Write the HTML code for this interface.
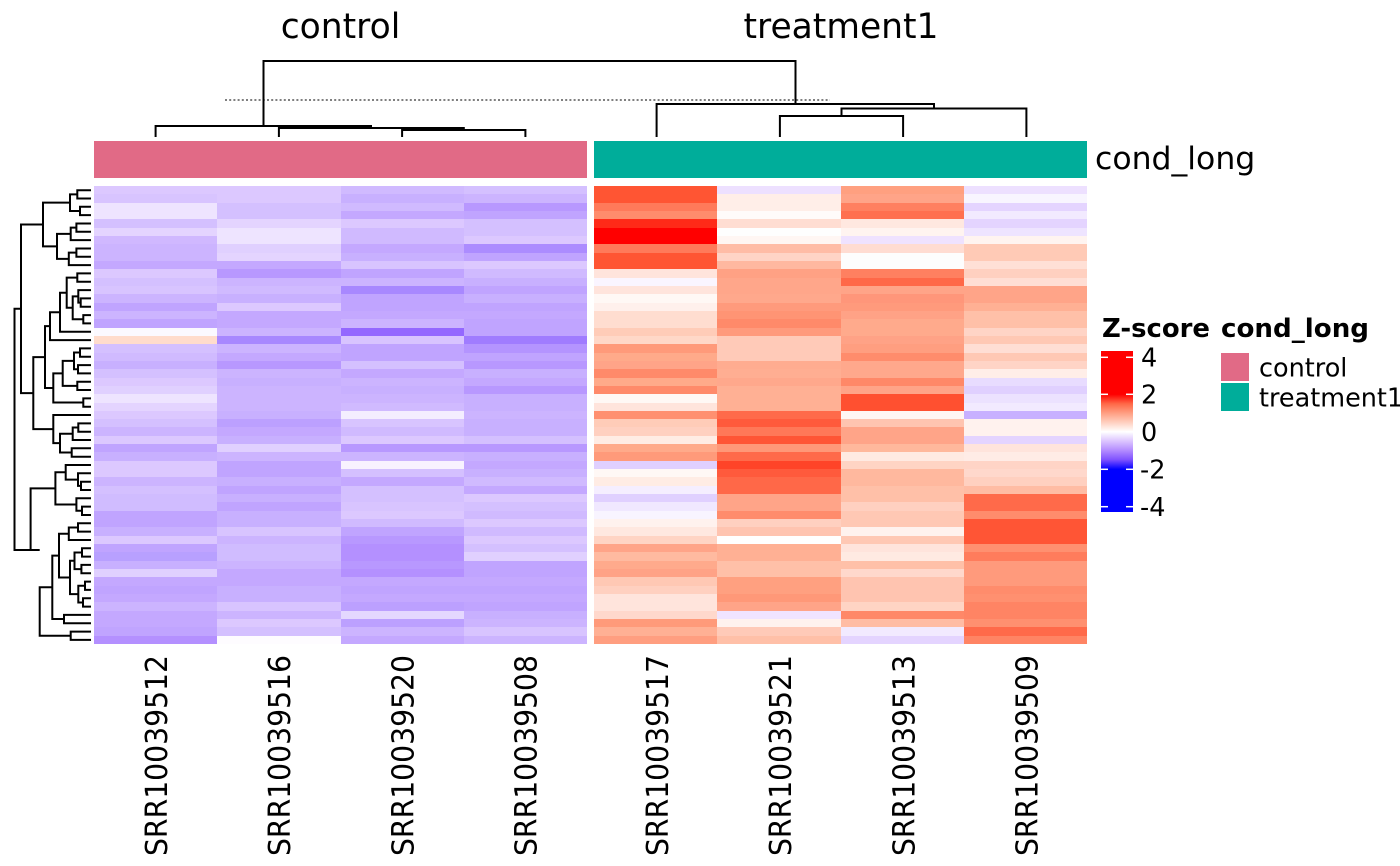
<!DOCTYPE html>
<html><head><meta charset="utf-8">
<style>
html,body{margin:0;padding:0;background:#fff;}
#wrap{position:relative;width:1400px;height:866px;overflow:hidden;background:#fff;}
.hm{position:absolute;top:186px;width:493px;height:458px;display:grid;grid-template-rows:repeat(55,1fr);grid-template-columns:repeat(4,1fr);grid-auto-flow:column;}
.hm i{display:block;}
svg{position:absolute;left:0;top:0;}
text{font-family:"DejaVu Sans","Liberation Sans",sans-serif;}
</style></head><body><div id="wrap">

<div class="hm" style="left:94px">
<i style="background:#dcc8ff"></i><i style="background:#d8c4ff"></i><i style="background:#eee4ff"></i><i style="background:#eee4ff"></i><i style="background:#d4c0ff"></i><i style="background:#e4d4ff"></i><i style="background:#d0b8ff"></i><i style="background:#ccb4ff"></i><i style="background:#ccb4ff"></i><i style="background:#c4a8ff"></i><i style="background:#dcc8ff"></i><i style="background:#d4c0ff"></i><i style="background:#d8c4ff"></i><i style="background:#ccb4ff"></i><i style="background:#c0a4ff"></i><i style="background:#ccb4ff"></i><i style="background:#c0a4ff"></i><i style="background:#fbf9ff"></i><i style="background:#ffdccc"></i><i style="background:#d4c0ff"></i><i style="background:#d0baff"></i><i style="background:#c8b0ff"></i><i style="background:#d4c0ff"></i><i style="background:#dcc8ff"></i><i style="background:#e0d0ff"></i><i style="background:#eee4ff"></i><i style="background:#e4d4ff"></i><i style="background:#dcc8ff"></i><i style="background:#d4c0ff"></i><i style="background:#ccb4ff"></i><i style="background:#dcc8ff"></i><i style="background:#c0a4ff"></i><i style="background:#c8b0ff"></i><i style="background:#dcc8ff"></i><i style="background:#dcc8ff"></i><i style="background:#ccb4ff"></i><i style="background:#d4c0ff"></i><i style="background:#d0bcff"></i><i style="background:#d0bcff"></i><i style="background:#c0a4ff"></i><i style="background:#c0a4ff"></i><i style="background:#c8b0ff"></i><i style="background:#dcc8ff"></i><i style="background:#c0a4ff"></i><i style="background:#b8a0ff"></i><i style="background:#c8b0ff"></i><i style="background:#e0d0ff"></i><i style="background:#c4a8ff"></i><i style="background:#c0a4ff"></i><i style="background:#c4a8ff"></i><i style="background:#ccb4ff"></i><i style="background:#c4a8ff"></i><i style="background:#c4a8ff"></i><i style="background:#c0a4ff"></i><i style="background:#b490ff"></i>
<i style="background:#dcc8ff"></i><i style="background:#dcc8ff"></i><i style="background:#d4c0ff"></i><i style="background:#d4c0ff"></i><i style="background:#e4d4ff"></i><i style="background:#eee4ff"></i><i style="background:#eee4ff"></i><i style="background:#e0d0ff"></i><i style="background:#e4d4ff"></i><i style="background:#c4a8ff"></i><i style="background:#b898ff"></i><i style="background:#ccb4ff"></i><i style="background:#d0baff"></i><i style="background:#c8b0ff"></i><i style="background:#dcc8ff"></i><i style="background:#c4a8ff"></i><i style="background:#c4a8ff"></i><i style="background:#ccb4ff"></i><i style="background:#a888ff"></i><i style="background:#ccb4ff"></i><i style="background:#c4a8ff"></i><i style="background:#b898ff"></i><i style="background:#ccb4ff"></i><i style="background:#c8b0ff"></i><i style="background:#ccb4ff"></i><i style="background:#ccb4ff"></i><i style="background:#ccb4ff"></i><i style="background:#c8b0ff"></i><i style="background:#bca0ff"></i><i style="background:#c4a8ff"></i><i style="background:#c8b0ff"></i><i style="background:#e0d0ff"></i><i style="background:#ccb4ff"></i><i style="background:#c0a4ff"></i><i style="background:#c0a4ff"></i><i style="background:#c8b0ff"></i><i style="background:#c0a4ff"></i><i style="background:#c8b0ff"></i><i style="background:#c0a4ff"></i><i style="background:#c8b0ff"></i><i style="background:#c8b0ff"></i><i style="background:#d8c4ff"></i><i style="background:#ccb4ff"></i><i style="background:#d0bcff"></i><i style="background:#d0bcff"></i><i style="background:#ccb4ff"></i><i style="background:#c4a8ff"></i><i style="background:#c4a8ff"></i><i style="background:#c8b0ff"></i><i style="background:#c8b0ff"></i><i style="background:#d8c4ff"></i><i style="background:#ccb4ff"></i><i style="background:#dcc8ff"></i><i style="background:#d4c0ff"></i><i style="background:#fefcff"></i>
<i style="background:#d0baff"></i><i style="background:#c8b0ff"></i><i style="background:#d0baff"></i><i style="background:#c4a8ff"></i><i style="background:#dcc8ff"></i><i style="background:#d0baff"></i><i style="background:#d0baff"></i><i style="background:#c4a8ff"></i><i style="background:#c8b0ff"></i><i style="background:#d8c4ff"></i><i style="background:#c0a4ff"></i><i style="background:#ccb4ff"></i><i style="background:#a888ff"></i><i style="background:#c0a4ff"></i><i style="background:#c0a4ff"></i><i style="background:#c4a8ff"></i><i style="background:#ccb4ff"></i><i style="background:#9468ff"></i><i style="background:#d8c4ff"></i><i style="background:#c0a4ff"></i><i style="background:#c0a4ff"></i><i style="background:#d4c0ff"></i><i style="background:#c4a8ff"></i><i style="background:#ccb4ff"></i><i style="background:#c8b0ff"></i><i style="background:#ccb4ff"></i><i style="background:#d0baff"></i><i style="background:#f4eeff"></i><i style="background:#d8c4ff"></i><i style="background:#d0baff"></i><i style="background:#dcc8ff"></i><i style="background:#b898ff"></i><i style="background:#ccb4ff"></i><i style="background:#f8f2ff"></i><i style="background:#d4c0ff"></i><i style="background:#c4a8ff"></i><i style="background:#d4c0ff"></i><i style="background:#d4c0ff"></i><i style="background:#d8c4ff"></i><i style="background:#dcc8ff"></i><i style="background:#d0baff"></i><i style="background:#c0a4ff"></i><i style="background:#b898ff"></i><i style="background:#b490ff"></i><i style="background:#b490ff"></i><i style="background:#b898ff"></i><i style="background:#b490ff"></i><i style="background:#c4a8ff"></i><i style="background:#c0a4ff"></i><i style="background:#c4a8ff"></i><i style="background:#bca0ff"></i><i style="background:#e4d8ff"></i><i style="background:#bca0ff"></i><i style="background:#ccb4ff"></i><i style="background:#c4a8ff"></i>
<i style="background:#d4c0ff"></i><i style="background:#ccb4ff"></i><i style="background:#b898ff"></i><i style="background:#c0a4ff"></i><i style="background:#d4c0ff"></i><i style="background:#d4c0ff"></i><i style="background:#dcc8ff"></i><i style="background:#ac8cff"></i><i style="background:#c0a4ff"></i><i style="background:#dcc8ff"></i><i style="background:#d0baff"></i><i style="background:#c8b0ff"></i><i style="background:#c0a4ff"></i><i style="background:#c8b0ff"></i><i style="background:#c0a4ff"></i><i style="background:#c4a8ff"></i><i style="background:#c0a4ff"></i><i style="background:#c0a4ff"></i><i style="background:#a07cff"></i><i style="background:#b494ff"></i><i style="background:#c0a4ff"></i><i style="background:#b898ff"></i><i style="background:#c8b0ff"></i><i style="background:#c4a8ff"></i><i style="background:#b898ff"></i><i style="background:#c8b0ff"></i><i style="background:#c8b0ff"></i><i style="background:#ccb4ff"></i><i style="background:#c8b0ff"></i><i style="background:#c8b0ff"></i><i style="background:#d4c0ff"></i><i style="background:#b898ff"></i><i style="background:#c8b0ff"></i><i style="background:#c4a8ff"></i><i style="background:#c8b0ff"></i><i style="background:#d0baff"></i><i style="background:#c4a8ff"></i><i style="background:#dcc8ff"></i><i style="background:#d4c0ff"></i><i style="background:#d0baff"></i><i style="background:#dcc8ff"></i><i style="background:#d0baff"></i><i style="background:#dcc8ff"></i><i style="background:#d4c0ff"></i><i style="background:#e0d0ff"></i><i style="background:#c0a4ff"></i><i style="background:#c0a4ff"></i><i style="background:#c4a8ff"></i><i style="background:#c0a4ff"></i><i style="background:#c4a8ff"></i><i style="background:#c0a4ff"></i><i style="background:#c8b0ff"></i><i style="background:#ccb4ff"></i><i style="background:#d8c4ff"></i><i style="background:#ccb4ff"></i>
</div>

<div class="hm" style="left:594px">
<i style="background:#ff5533"></i><i style="background:#ff5533"></i><i style="background:#ff7a5a"></i><i style="background:#ff8c6c"></i><i style="background:#ff2a18"></i><i style="background:#ff0000"></i><i style="background:#ff0000"></i><i style="background:#ff7a5a"></i><i style="background:#ff5533"></i><i style="background:#ff5533"></i><i style="background:#ffe4dc"></i><i style="background:#faf5ff"></i><i style="background:#ffe4dc"></i><i style="background:#fff8f5"></i><i style="background:#fff0ec"></i><i style="background:#ffddd0"></i><i style="background:#ffddd0"></i><i style="background:#ffccb8"></i><i style="background:#ffd8c8"></i><i style="background:#ff9a7a"></i><i style="background:#ffaa8a"></i><i style="background:#ffa488"></i><i style="background:#ff8a6a"></i><i style="background:#ffaa8a"></i><i style="background:#ff8a6a"></i><i style="background:#fff8f5"></i><i style="background:#ffe4dc"></i><i style="background:#ff9070"></i><i style="background:#ffccb8"></i><i style="background:#ffd0c0"></i><i style="background:#ffece4"></i><i style="background:#ffaa8a"></i><i style="background:#ff9a7a"></i><i style="background:#e0d0ff"></i><i style="background:#fff8f5"></i><i style="background:#ffece4"></i><i style="background:#f5eeff"></i><i style="background:#e0d0ff"></i><i style="background:#f0e8ff"></i><i style="background:#f8f4ff"></i><i style="background:#fff2ee"></i><i style="background:#ffe8e0"></i><i style="background:#ffd4c4"></i><i style="background:#ffa488"></i><i style="background:#ffbaa0"></i><i style="background:#ffaa8c"></i><i style="background:#ffa286"></i><i style="background:#ffc8b4"></i><i style="background:#ffd0c0"></i><i style="background:#ffe4dc"></i><i style="background:#ffe4dc"></i><i style="background:#ffd8cc"></i><i style="background:#ff9a7a"></i><i style="background:#ffb094"></i><i style="background:#ff9e80"></i>
<i style="background:#ede0ff"></i><i style="background:#ffeee8"></i><i style="background:#ffeee8"></i><i style="background:#fffbfa"></i><i style="background:#ffddd2"></i><i style="background:#fefefe"></i><i style="background:#fff6f3"></i><i style="background:#ffbca6"></i><i style="background:#ffd4c6"></i><i style="background:#ffb8a0"></i><i style="background:#ffa184"></i><i style="background:#ffa68a"></i><i style="background:#ffa68a"></i><i style="background:#ffa88c"></i><i style="background:#ff9a7c"></i><i style="background:#ff9474"></i><i style="background:#ff8a6a"></i><i style="background:#ff9a7c"></i><i style="background:#ffcab8"></i><i style="background:#ffcab8"></i><i style="background:#ffcab8"></i><i style="background:#ffac90"></i><i style="background:#ffae92"></i><i style="background:#ffa88c"></i><i style="background:#ffb094"></i><i style="background:#ffb094"></i><i style="background:#ffb094"></i><i style="background:#ff6a4a"></i><i style="background:#ff5a3c"></i><i style="background:#ff7858"></i><i style="background:#ff5535"></i><i style="background:#ff9878"></i><i style="background:#ff6a4a"></i><i style="background:#ff4428"></i><i style="background:#ff5a3c"></i><i style="background:#ff6848"></i><i style="background:#ff6848"></i><i style="background:#ffa488"></i><i style="background:#ffa488"></i><i style="background:#ff8c6c"></i><i style="background:#ffd0c0"></i><i style="background:#ffc4b0"></i><i style="background:#ffffff"></i><i style="background:#ffb094"></i><i style="background:#ffb094"></i><i style="background:#ffc0a8"></i><i style="background:#ffc0a8"></i><i style="background:#ffa080"></i><i style="background:#ffa080"></i><i style="background:#ff9878"></i><i style="background:#ffa488"></i><i style="background:#f0e4ff"></i><i style="background:#fff2ee"></i><i style="background:#ffcab8"></i><i style="background:#ffc0a8"></i>
<i style="background:#ffa080"></i><i style="background:#ffa488"></i><i style="background:#ff8060"></i><i style="background:#ff7050"></i><i style="background:#ffe8e0"></i><i style="background:#fff4f0"></i><i style="background:#efe2ff"></i><i style="background:#ffdcd2"></i><i style="background:#fdfdfd"></i><i style="background:#fdfdfd"></i><i style="background:#ff8060"></i><i style="background:#ff6848"></i><i style="background:#ffa488"></i><i style="background:#ff967a"></i><i style="background:#ff9a7c"></i><i style="background:#ffa286"></i><i style="background:#ffaa8c"></i><i style="background:#ffaa8c"></i><i style="background:#ffa286"></i><i style="background:#ff9e80"></i><i style="background:#ff8c6c"></i><i style="background:#ffa88c"></i><i style="background:#ffa88c"></i><i style="background:#ff8868"></i><i style="background:#ffa488"></i><i style="background:#ff5030"></i><i style="background:#ff5030"></i><i style="background:#fff6f3"></i><i style="background:#ffc4b0"></i><i style="background:#ffa488"></i><i style="background:#ffa488"></i><i style="background:#ffb89c"></i><i style="background:#ffeae2"></i><i style="background:#ffd4c4"></i><i style="background:#ffb89e"></i><i style="background:#ffb89e"></i><i style="background:#ffc0a8"></i><i style="background:#ffc0a8"></i><i style="background:#ffd0c0"></i><i style="background:#ffc8b4"></i><i style="background:#ffc8b4"></i><i style="background:#fff2ee"></i><i style="background:#ffc8b4"></i><i style="background:#ffe4dc"></i><i style="background:#ffeae2"></i><i style="background:#ffc0a8"></i><i style="background:#ffd8cc"></i><i style="background:#ffc4b0"></i><i style="background:#ffc4b0"></i><i style="background:#ffc4b0"></i><i style="background:#ffd4c4"></i><i style="background:#ff8868"></i><i style="background:#ffbca4"></i><i style="background:#f2eaff"></i><i style="background:#e4d4ff"></i>
<i style="background:#ede0ff"></i><i style="background:#f8f5ff"></i><i style="background:#e4d4ff"></i><i style="background:#f2eaff"></i><i style="background:#e4d4ff"></i><i style="background:#eee4ff"></i><i style="background:#fff4f0"></i><i style="background:#ffcab6"></i><i style="background:#ffcab6"></i><i style="background:#ffe0d6"></i><i style="background:#ffd0c0"></i><i style="background:#ffded4"></i><i style="background:#ffa488"></i><i style="background:#ffa488"></i><i style="background:#ffb094"></i><i style="background:#ffc0a8"></i><i style="background:#ffc0a8"></i><i style="background:#ffd4c6"></i><i style="background:#ffc8b4"></i><i style="background:#ffded4"></i><i style="background:#ffc8b4"></i><i style="background:#ffd4c6"></i><i style="background:#ffeee8"></i><i style="background:#e8dcff"></i><i style="background:#e0d0ff"></i><i style="background:#ece2ff"></i><i style="background:#f2eaff"></i><i style="background:#c8b0ff"></i><i style="background:#fff2ee"></i><i style="background:#fff2ee"></i><i style="background:#e4d4ff"></i><i style="background:#ffe4dc"></i><i style="background:#ffece6"></i><i style="background:#ffd4c6"></i><i style="background:#ffd8cc"></i><i style="background:#ffd0c0"></i><i style="background:#ffbca4"></i><i style="background:#ff6a4a"></i><i style="background:#ff6a4a"></i><i style="background:#ff8c6c"></i><i style="background:#ff5535"></i><i style="background:#ff5535"></i><i style="background:#ff5535"></i><i style="background:#ff9070"></i><i style="background:#ff7c5c"></i><i style="background:#ff9a7c"></i><i style="background:#ff9a7c"></i><i style="background:#ff9a7c"></i><i style="background:#ff8c6c"></i><i style="background:#ff9070"></i><i style="background:#ff8464"></i><i style="background:#ff8464"></i><i style="background:#ff9070"></i><i style="background:#ff6a4a"></i><i style="background:#ff8464"></i>
</div>

<svg width="1400" height="866" viewBox="0 0 1400 866" xmlns="http://www.w3.org/2000/svg">
<defs>
<linearGradient id="zg" x1="0" y1="0" x2="0" y2="1">
<stop offset="0" stop-color="#ff0000"/>
<stop offset="0.269" stop-color="#ff0000"/>
<stop offset="0.327" stop-color="#ff6746"/>
<stop offset="0.385" stop-color="#ff9e82"/>
<stop offset="0.443" stop-color="#ffcfbf"/>
<stop offset="0.501" stop-color="#ffffff"/>
<stop offset="0.559" stop-color="#dcc5ff"/>
<stop offset="0.618" stop-color="#b38bff"/>
<stop offset="0.676" stop-color="#7e51ff"/>
<stop offset="0.735" stop-color="#0000ff"/>
<stop offset="1" stop-color="#0000ff"/>
</linearGradient>
</defs>

<text x="340.5" y="38" font-size="34.5" text-anchor="middle" fill="#000">control</text>
<text x="841" y="38" font-size="34.5" text-anchor="middle" fill="#000">treatment1</text>

<line x1="225" y1="100" x2="830" y2="100" stroke="#555" stroke-width="1.6" stroke-dasharray="2 2.2"/>
<g fill="none" stroke="#000" stroke-width="2">
<path d="M263.5 126 V61 H795.5 V104"/>
<path d="M656.6 137 V104 H934 V108.5"/>
<path d="M841.5 116 V108.5 H1026.4 V137"/>
<path d="M779.9 137 V116 H903.1 V137"/>
<path d="M155.6 137 V126 H371 V128"/>
<path d="M278.9 137 V128 H463.8 V130"/>
<path d="M402.1 137 V130 H525.4 V137"/>
</g>

<rect x="94" y="141" width="493" height="37" fill="#E16A86"/>
<rect x="594" y="141" width="493" height="37" fill="#00AD9A"/>
<text x="1095" y="169" font-size="31.5" fill="#000">cond_long</text>

<g fill="none" stroke="#000" stroke-width="2">
<path d="M21 308.8 H14.5 V549.95 H30.6"/>
<path d="M43 224.5 H21 V393.1 H33.3"/>
<path d="M70 202.65 H43 V246.4 H57"/>
<path d="M77.3 194.35 H70 V210.95 H80"/>
<path d="M91 190.2 H77.3 V198.5 H91"/>
<path d="M91 206.8 H80 V215.1 H91"/>
<path d="M70.7 233.9 H57 V258.9 H68.8"/>
<path d="M76.4 227.65 H70.7 V240.1 H91"/>
<path d="M91 223.5 H76.4 V231.8 H91"/>
<path d="M76.4 252.65 H68.8 V265.1 H91"/>
<path d="M91 248.5 H76.4 V256.8 H91"/>
<path d="M45 357.1 H33.3 V429.1 H53.3"/>
<path d="M50 326.15 H45 V388 H53.3"/>
<path d="M60 312.2 H50 V340.1 H91"/>
<path d="M66.7 292.7 H60 V331.7 H91"/>
<path d="M77.3 277.6 H66.7 V307.8 H72.7"/>
<path d="M91 273.4 H77.3 V281.8 H91"/>
<path d="M78.3 296.35 H72.7 V319.25 H83.3"/>
<path d="M91 290.1 H78.3 V302.6 H80.7"/>
<path d="M91 298.4 H80.7 V306.8 H91"/>
<path d="M91 315.1 H83.3 V323.4 H91"/>
<path d="M62.7 373.4 H53.3 V402.55 H83.3"/>
<path d="M74 360.9 H62.7 V385.85 H77.3"/>
<path d="M80 352.55 H74 V369.25 H78"/>
<path d="M91 348.4 H80 V356.7 H91"/>
<path d="M91 365.1 H78 V373.4 H91"/>
<path d="M91 381.7 H77.3 V390 H91"/>
<path d="M91 398.4 H83.3 V406.7 H91"/>
<path d="M91 415 H53.3 V443.15 H60"/>
<path d="M72.7 433.8 H60 V452.5 H71.7"/>
<path d="M78.3 427.55 H72.7 V440 H91"/>
<path d="M91 423.4 H78.3 V431.7 H91"/>
<path d="M91 448.3 H71.7 V456.7 H91"/>
<path d="M55.4 488.4 H30.6 V549.95 H39.7"/>
<path d="M65.7 472.3 H55.4 V504.55 H76.4"/>
<path d="M91 465 H65.7 V479.6 H78"/>
<path d="M91 473.3 H78 V485.85 H81"/>
<path d="M91 481.7 H81 V490 H91"/>
<path d="M91 498.3 H76.4 V510.8 H82"/>
<path d="M91 506.6 H82 V515 H91"/>
<path d="M52.3 587.3 H39.7 V635.75 H70.7"/>
<path d="M59 555.6 H52.3 V619.05 H64"/>
<path d="M68.8 533.7 H59 V577.45 H70"/>
<path d="M78 527.45 H68.8 V540 H91"/>
<path d="M91 523.3 H78 V531.6 H91"/>
<path d="M74.5 560.8 H70 V594.1 H78.3"/>
<path d="M82 552.45 H74.5 V569.1 H81.4"/>
<path d="M91 548.3 H82 V556.6 H91"/>
<path d="M91 564.9 H81.4 V573.3 H91"/>
<path d="M85 585.75 H78.3 V602.45 H83"/>
<path d="M91 581.6 H85 V589.9 H91"/>
<path d="M91 598.3 H83 V606.6 H91"/>
<path d="M91 614.9 H64 V623.2 H91"/>
<path d="M91 631.6 H70.7 V639.9 H91"/>
</g>

<g font-size="30" fill="#000" text-anchor="end">
<text transform="translate(166.8,655) rotate(-90)" textLength="201" lengthAdjust="spacingAndGlyphs">SRR10039512</text>
<text transform="translate(290.1,655) rotate(-90)" textLength="201" lengthAdjust="spacingAndGlyphs">SRR10039516</text>
<text transform="translate(413.3,655) rotate(-90)" textLength="201" lengthAdjust="spacingAndGlyphs">SRR10039520</text>
<text transform="translate(536.6,655) rotate(-90)" textLength="201" lengthAdjust="spacingAndGlyphs">SRR10039508</text>
<text transform="translate(667.8,655) rotate(-90)" textLength="201" lengthAdjust="spacingAndGlyphs">SRR10039517</text>
<text transform="translate(791.1,655) rotate(-90)" textLength="201" lengthAdjust="spacingAndGlyphs">SRR10039521</text>
<text transform="translate(914.3,655) rotate(-90)" textLength="201" lengthAdjust="spacingAndGlyphs">SRR10039513</text>
<text transform="translate(1037.6,655) rotate(-90)" textLength="201" lengthAdjust="spacingAndGlyphs">SRR10039509</text>
</g>

<text x="1102" y="337" font-size="26" font-weight="bold" fill="#000" textLength="108" lengthAdjust="spacingAndGlyphs">Z-score</text>
<text x="1221" y="337" font-size="26" font-weight="bold" fill="#000" textLength="148" lengthAdjust="spacingAndGlyphs">cond_long</text>

<rect x="1101" y="351" width="32" height="161" fill="url(#zg)"/>
<g stroke="#fff" stroke-width="1.5">
<line x1="1101" y1="357.3" x2="1108" y2="357.3"/><line x1="1126" y1="357.3" x2="1133" y2="357.3"/>
<line x1="1101" y1="394.3" x2="1108" y2="394.3"/><line x1="1126" y1="394.3" x2="1133" y2="394.3"/>
<line x1="1101" y1="431.7" x2="1108" y2="431.7"/><line x1="1126" y1="431.7" x2="1133" y2="431.7"/>
<line x1="1101" y1="469.3" x2="1108" y2="469.3"/><line x1="1126" y1="469.3" x2="1133" y2="469.3"/>
<line x1="1101" y1="506.7" x2="1108" y2="506.7"/><line x1="1126" y1="506.7" x2="1133" y2="506.7"/>
</g>
<g font-size="25.5" fill="#000">
<text x="1141" y="366.6">4</text>
<text x="1141" y="403.6">2</text>
<text x="1141" y="441">0</text>
<text x="1140" y="478.6">-2</text>
<text x="1140" y="516">-4</text>
</g>

<rect x="1221" y="353" width="28" height="28" fill="#E16A86"/>
<rect x="1221" y="383" width="28" height="28" fill="#00AD9A"/>
<g font-size="25.5" fill="#000">
<text x="1259" y="376.5">control</text>
<text x="1259" y="406.5">treatment1</text>
</g>
</svg>
</div></body></html>
